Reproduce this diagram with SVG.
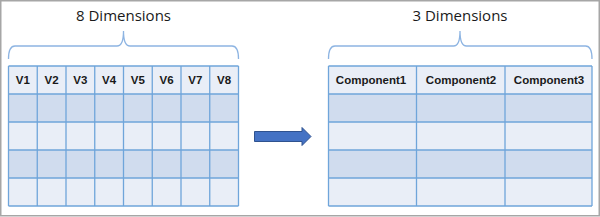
<svg xmlns="http://www.w3.org/2000/svg" width="600" height="217" viewBox="0 0 600 217">
<style>
.title{font-family:"Open Sans","Liberation Sans",sans-serif;font-size:15px;fill:#1a1a1a;text-anchor:middle}
.hdr{font-family:"Liberation Sans",Arial,sans-serif;font-weight:bold;font-size:11.5px;fill:#1a1a1a;text-anchor:middle}
.light{fill:#E9EEF7}
.dark{fill:#D0DCEE}
.grid{stroke:#6FA5DA;stroke-width:1.3;fill:none}
.brace{stroke:#8DB4E2;stroke-width:1.3;fill:none}
</style>
<rect x="0.75" y="0.75" width="598.5" height="215" fill="#FFFFFF" stroke="#A6A6A6" stroke-width="1.5"/>

<g id="left-title">
<text class="title" x="123.5" y="21">8 Dimensions</text>
<path class="brace" d="M8.5,59 Q8.5,46 15,46 L117,46 Q123.5,46 123.5,31 Q123.5,46 130,46 L232,46 Q238.5,46 238.5,59"/>
</g>

<g id="left-table">
<rect class="light" x="8.5" y="66" width="230" height="28"/>
<rect class="dark" x="8.5" y="94" width="230" height="28"/>
<rect class="light" x="8.5" y="122" width="230" height="28"/>
<rect class="dark" x="8.5" y="150" width="230" height="28"/>
<rect class="light" x="8.5" y="178" width="230" height="28"/>
<path class="grid" d="M8.5,66 H238.5 M8.5,94 H238.5 M8.5,122 H238.5 M8.5,150 H238.5 M8.5,178 H238.5 M8.5,206 H238.5
M8.5,66 V206 M37.25,66 V206 M66,66 V206 M94.75,66 V206 M123.5,66 V206 M152.25,66 V206 M181,66 V206 M209.75,66 V206 M238.5,66 V206"/>
<text class="hdr" x="22.9" y="84">V1</text>
<text class="hdr" x="51.6" y="84">V2</text>
<text class="hdr" x="80.4" y="84">V3</text>
<text class="hdr" x="109.1" y="84">V4</text>
<text class="hdr" x="137.9" y="84">V5</text>
<text class="hdr" x="166.6" y="84">V6</text>
<text class="hdr" x="195.4" y="84">V7</text>
<text class="hdr" x="224.1" y="84">V8</text>
</g>

<g id="connectors">
<path d="M254.5,131.5 H302 V127.5 L311,136.5 L302,145.5 V141.5 H254.5 Z" fill="#4472C4" stroke="#2F528F" stroke-width="1"/>
</g>

<g id="right-title">
<text class="title" x="460" y="21">3 Dimensions</text>
<path class="brace" d="M328.5,59 Q328.5,46 335,46 L453.5,46 Q460,46 460,31 Q460,46 466.5,46 L585.5,46 Q592,46 592,59"/>
</g>

<g id="right-table">
<rect class="light" x="328.5" y="66" width="263.5" height="28"/>
<rect class="dark" x="328.5" y="94" width="263.5" height="28"/>
<rect class="light" x="328.5" y="122" width="263.5" height="28"/>
<rect class="dark" x="328.5" y="150" width="263.5" height="28"/>
<rect class="light" x="328.5" y="178" width="263.5" height="28"/>
<path class="grid" d="M328.5,66 H592 M328.5,94 H592 M328.5,122 H592 M328.5,150 H592 M328.5,178 H592 M328.5,206 H592
M328.5,66 V206 M416.5,66 V206 M505,66 V206 M592,66 V206"/>
<text class="hdr" x="371" y="84">Component1</text>
<text class="hdr" x="461" y="84">Component2</text>
<text class="hdr" x="549" y="84">Component3</text>
</g>
</svg>
